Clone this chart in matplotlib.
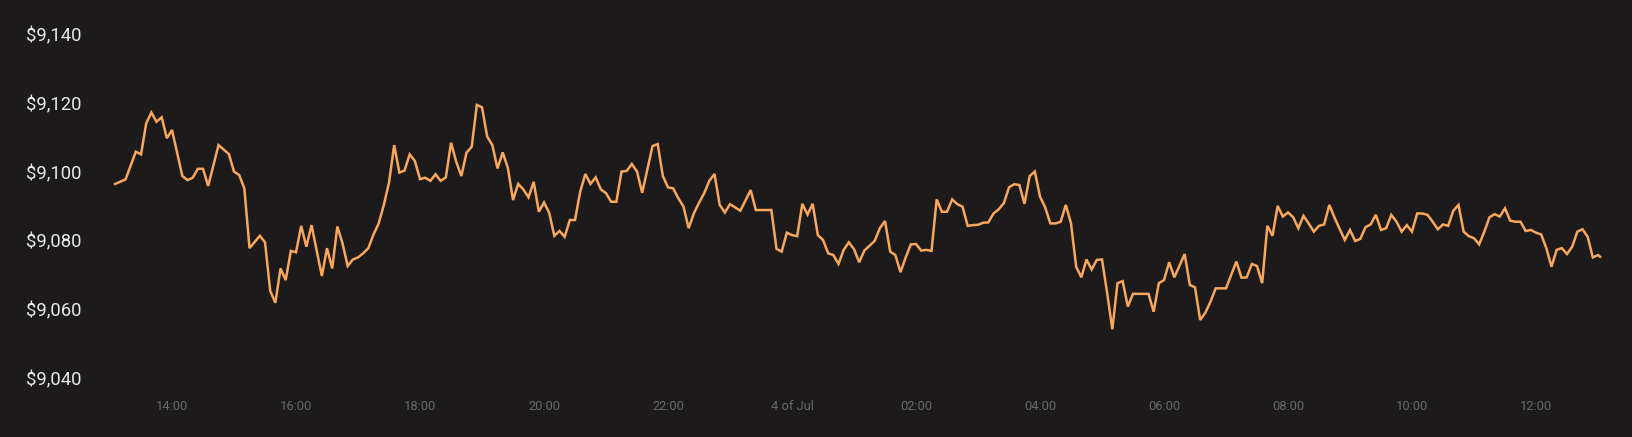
import matplotlib
matplotlib.use("Agg")
import matplotlib.pyplot as plt

# minutes since 00:00 on 3 Jul
minutes = [
    785, 795, 805, 810, 815, 820, 825, 830, 835, 840,
    850, 855, 860, 865, 870, 875, 885, 895, 900, 905,
    910, 915, 925, 930, 935, 940, 945, 950, 955, 960,
    965, 970, 975, 985, 990, 995, 1000, 1005, 1010, 1015,
    1020, 1025, 1030, 1035, 1040, 1045, 1050, 1055, 1060, 1065,
    1070, 1075, 1080, 1085, 1090, 1095, 1100, 1105, 1110, 1115,
    1120, 1125, 1130, 1135, 1140, 1145, 1150, 1155, 1160, 1165,
    1170, 1175, 1180, 1185, 1190, 1195, 1200, 1205, 1210, 1215,
    1220, 1225, 1230, 1235, 1240, 1245, 1250, 1255, 1260, 1265,
    1270, 1275, 1280, 1285, 1290, 1295, 1305, 1310, 1315, 1320,
    1325, 1330, 1335, 1340, 1345, 1350, 1355, 1360, 1365, 1370,
    1375, 1380, 1390, 1400, 1405, 1420, 1425, 1430, 1435, 1440,
    1445, 1450, 1455, 1460, 1465, 1470, 1475, 1480, 1485, 1490,
    1495, 1500, 1505, 1510, 1515, 1520, 1525, 1530, 1535, 1540,
    1545, 1550, 1555, 1560, 1565, 1570, 1575, 1580, 1585, 1590,
    1595, 1600, 1605, 1610, 1615, 1620, 1625, 1630, 1635, 1640,
    1645, 1650, 1655, 1660, 1665, 1670, 1675, 1680, 1685, 1690,
    1695, 1700, 1705, 1710, 1715, 1720, 1725, 1730, 1735, 1740,
    1745, 1750, 1755, 1760, 1765, 1770, 1785, 1790, 1795, 1800,
    1805, 1810, 1820, 1825, 1830, 1835, 1840, 1845, 1850, 1860,
    1870, 1875, 1880, 1885, 1890, 1895, 1900, 1905, 1910, 1915,
    1920, 1925, 1930, 1935, 1940, 1945, 1950, 1955, 1960, 1965,
    1970, 1975, 1980, 1985, 1990, 1995, 2000, 2005, 2010, 2015,
    2020, 2025, 2030, 2035, 2040, 2045, 2050, 2055, 2060, 2065,
    2070, 2075, 2080, 2085, 2090, 2095, 2100, 2105, 2110, 2115,
    2120, 2125, 2130, 2135, 2140, 2145, 2150, 2155, 2160, 2165,
    2170, 2175, 2180, 2185, 2190, 2195, 2200, 2205, 2210, 2215,
    2220, 2222,
]

prices = [
    9096.5, 9097.8, 9105.9, 9105.1, 9114.1, 9117.3, 9114.6, 9115.9, 9109.8, 9112.2,
    9098.8, 9097.6, 9098.3, 9100.9, 9100.9, 9095.9, 9107.8, 9105.2, 9100.1, 9099.1,
    9095.2, 9077.8, 9081.4, 9079.5, 9065.4, 9061.9, 9071.9, 9068.5, 9077.0, 9076.6,
    9084.3, 9078.2, 9084.5, 9069.7, 9077.8, 9071.9, 9084.1, 9079.2, 9072.6, 9074.5,
    9075.1, 9076.3, 9077.8, 9081.8, 9085.0, 9090.4, 9096.9, 9107.8, 9099.8, 9100.4,
    9105.1, 9103.2, 9097.9, 9098.3, 9097.4, 9099.3, 9097.4, 9098.4, 9108.5, 9103.0,
    9098.8, 9105.6, 9107.3, 9119.5, 9118.8, 9110.3, 9107.8, 9101.0, 9105.7, 9101.2,
    9091.8, 9096.5, 9094.9, 9092.6, 9097.1, 9088.4, 9091.1, 9088.1, 9081.4, 9082.8,
    9081.1, 9086.0, 9086.0, 9094.2, 9099.4, 9096.5, 9098.4, 9094.9, 9093.8, 9091.3,
    9091.3, 9100.1, 9100.3, 9102.3, 9100.1, 9093.9, 9107.5, 9108.1, 9098.8, 9095.5,
    9095.2, 9092.3, 9089.9, 9083.6, 9087.9, 9091.0, 9093.8, 9097.4, 9099.4, 9090.4,
    9088.2, 9090.6, 9088.7, 9094.7, 9088.9, 9088.9, 9077.6, 9076.8, 9082.3, 9081.6,
    9081.3, 9090.7, 9087.6, 9090.7, 9081.6, 9080.2, 9076.3, 9075.8, 9073.2, 9077.3,
    9079.5, 9077.5, 9073.7, 9077.1, 9078.5, 9079.9, 9083.6, 9085.7, 9076.8, 9075.8,
    9070.8, 9075.1, 9078.9, 9079.0, 9077.1, 9077.3, 9077.0, 9092.0, 9088.4, 9088.4,
    9092.0, 9090.6, 9089.9, 9084.3, 9084.5, 9084.6, 9085.2, 9085.3, 9087.9, 9089.1,
    9090.9, 9095.5, 9096.4, 9096.2, 9090.7, 9098.8, 9100.1, 9092.8, 9089.7, 9085.0,
    9085.0, 9085.5, 9090.4, 9085.0, 9072.4, 9069.3, 9074.5, 9071.6, 9074.4, 9074.5,
    9064.7, 9054.2, 9067.6, 9068.2, 9060.8, 9064.5, 9064.5, 9059.3, 9067.6, 9068.5,
    9073.7, 9069.3, 9076.1, 9067.1, 9066.4, 9056.9, 9059.0, 9062.2, 9066.1, 9066.1,
    9073.9, 9069.2, 9069.3, 9073.2, 9072.6, 9067.6, 9084.3, 9081.4, 9090.1, 9087.0,
    9088.2, 9086.8, 9083.6, 9087.2, 9085.0, 9082.6, 9084.3, 9084.7, 9090.4, 9086.7,
    9083.4, 9080.2, 9083.1, 9079.9, 9080.5, 9083.9, 9084.7, 9087.5, 9083.1, 9083.6,
    9087.5, 9085.5, 9082.6, 9084.5, 9082.6, 9087.9, 9087.9, 9087.5, 9085.5, 9083.3,
    9084.7, 9084.3, 9088.7, 9090.4, 9082.6, 9081.3, 9080.7, 9078.9, 9082.6, 9086.8,
    9087.7, 9087.0, 9089.4, 9085.8, 9085.5, 9085.5, 9082.8, 9083.1, 9082.3, 9081.8,
    9077.8, 9072.4, 9077.3, 9077.8, 9076.1, 9078.2, 9082.6, 9083.3, 9081.1, 9075.1,
    9075.8, 9075.3,
]

tick_minutes = [840, 960, 1080, 1200, 1320, 1440, 1560, 1680, 1800, 1920, 2040, 2160]
tick_labels = ["14:00", "16:00", "18:00", "20:00", "22:00", "4 of Jul",
               "02:00", "04:00", "06:00", "08:00", "10:00", "12:00"]
y_ticks = [9040, 9060, 9080, 9100, 9120, 9140]

assert len(minutes) == len(prices)

BG = "#1c1a1b"
plt.rcParams["font.family"] = ["Roboto", "DejaVu Sans"]

fig = plt.figure(figsize=(16.33, 4.37), dpi=100, facecolor=BG)
ax = fig.add_axes([100 / 1633, 59 / 437, 1520 / 1633, 343.5 / 437])
ax.set_facecolor(BG)

ax.plot(minutes, prices, color="#f8a75c", lw=1.8, solid_joinstyle="miter")

ax.set_xlim(770.3, 2241.3)
ax.set_ylim(9040, 9140)

ax.set_yticks(y_ticks)
ax.set_yticklabels([f"${v:,}" for v in y_ticks])
ax.set_xticks(tick_minutes)
ax.set_xticklabels(tick_labels)

ax.tick_params(axis="y", length=0, pad=13, labelsize=13.3, labelcolor="#e8e8e8")
ax.tick_params(axis="x", length=0, pad=16, labelsize=9.3, labelcolor="#6a6a6a")
for s in ax.spines.values():
    s.set_visible(False)

fig.savefig("out.png", dpi=100, facecolor=BG)
